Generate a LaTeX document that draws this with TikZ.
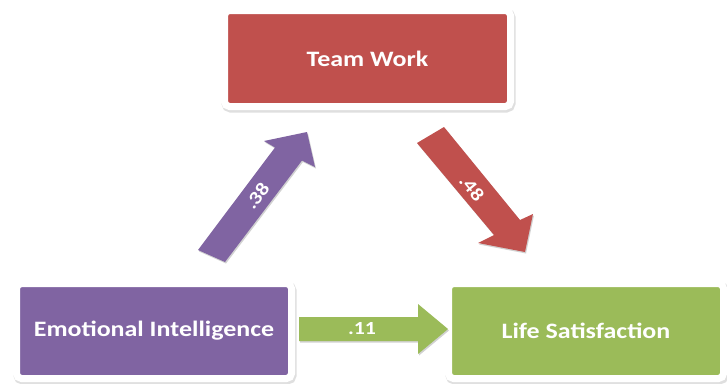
\documentclass[tikz,border=0pt]{standalone}
\usepackage{fontspec}
\setmainfont[FakeStretch=1.18]{Carlito}
\usetikzlibrary{shadows}
\definecolor{twred}{HTML}{C0504D}
\definecolor{eipurple}{HTML}{8064A2}
\definecolor{lsgreen}{HTML}{9BBB59}
\tikzset{
  boxnode/.style={draw=white, line width=7pt, rounded corners=5pt,
    inner sep=0pt, text=white, font=\fontsize{22}{26}\selectfont\bfseries,
    drop shadow={shadow xshift=1pt, shadow yshift=-2pt, fill=black!35,
      draw=black!35, line width=8pt, opacity=.35}},
  fatarrow/.style={drop shadow={shadow xshift=1pt, shadow yshift=-1.5pt,
      fill=black, opacity=.18}},
  arrowlabel/.style={text=white, inner sep=0pt,
    font=\fontsize{18.5}{22}\selectfont\bfseries}
}
\begin{document}
\begin{tikzpicture}[x=1pt,y=-1pt]
\useasboundingbox[fill=white] (0,0) rectangle (727,383);
% boxes
\node[boxnode, fill=twred, minimum width=286pt, minimum height=96pt] (tw) at (367.5,58.5) {Team Work};
\node[boxnode, fill=eipurple, minimum width=275pt, minimum height=95pt] (ei) at (154,331) {Emotional Intelligence};
\node[boxnode, fill=lsgreen, minimum width=275pt, minimum height=95pt] (ls) at (586,331) {Life Satisfaction};
% purple arrow EI -> TW
\fill[eipurple, fatarrow] (198,250) -- (275,147.5) -- (264,141) -- (307,132) -- (315,167) -- (302,160.5) -- (225,262) -- cycle;
\node[arrowlabel, rotate=52.7] (l38) at (257,196) {.38};
% red arrow TW -> LS
\fill[twred, fatarrow] (417,143) -- (494,235) -- (478,243) -- (525,252) -- (533,214) -- (520,220) -- (444,127) -- cycle;
\node[arrowlabel, rotate=-50.4] (l48) at (472,188) {.48};
% green arrow EI -> LS
\fill[lsgreen, fatarrow] (299,317) -- (418,317) -- (418,304) -- (448,329) -- (418,354) -- (418,341) -- (299,341) -- cycle;
\node[arrowlabel] (l11) at (362,329) {.11};
\end{tikzpicture}
\end{document}
